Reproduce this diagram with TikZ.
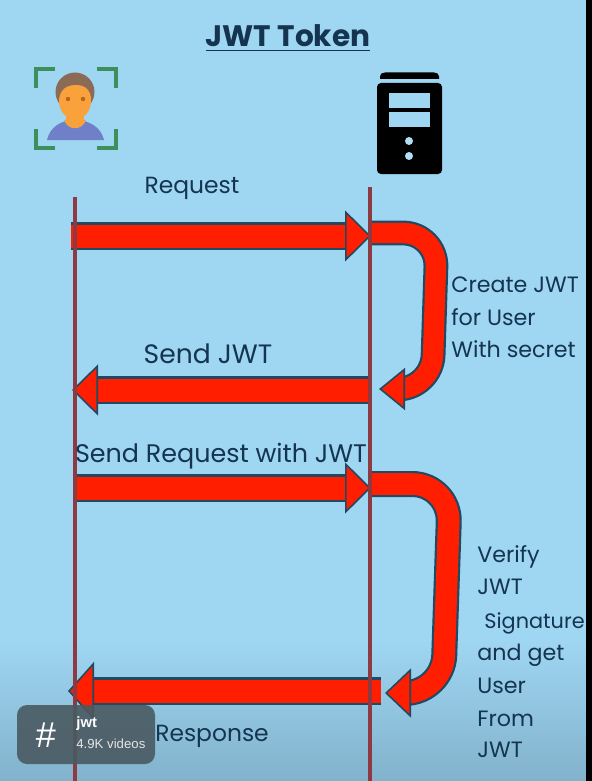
\documentclass[tikz,border=0pt]{standalone}
\usepackage{fontspec}
\setmainfont{Poppins}
\newfontfamily\tagfont{Liberation Sans}
\usetikzlibrary{arrows.meta}
\definecolor{skyback}{HTML}{9FD6F2}
\definecolor{skylow}{HTML}{82B2CC}
\definecolor{arrowred}{HTML}{FF1E00}
\definecolor{arrowedge}{HTML}{1F4A63}
\definecolor{lifered}{HTML}{8E3A42}
\definecolor{inkblue}{HTML}{14344F}
\definecolor{framegreen}{HTML}{3E8E5E}
\definecolor{hairbrown}{HTML}{8B6B55}
\definecolor{skinorange}{HTML}{F9A13B}
\definecolor{eyebrown}{HTML}{B5651D}
\definecolor{shirtblue}{HTML}{6F80C8}
\definecolor{tagslate}{HTML}{4A5A62}
\tikzset{
  bigarrow/.style={line width=11.5pt, color=arrowred,
    preaction={draw, arrows=-, color=arrowedge, line width=\pgflinewidth+1.1pt, shorten >=9pt},
    -{Triangle[length=13pt,width=#1,line width=.8pt,color=arrowedge,fill=arrowred]}},
  bigarrow/.default=25.5pt,
  lifeline/.style={line width=1.8pt, color=lifered},
  lbl/.style={text=inkblue, font=\fontsize{11.7}{14}\selectfont, inner sep=0pt, anchor=base},
  side/.style={lbl, anchor=base west, font=\fontsize{11.1}{14}\selectfont},
  bracket/.style={line width=2.3pt, color=framegreen}
}
\begin{document}
\begin{tikzpicture}[x=0.5pt,y=-0.5pt]
  \useasboundingbox (0,0) rectangle (592,781);
  % Background and black strip
  \fill[skyback] (0,0) rectangle (592,781);
  \shade[top color=skyback,bottom color=skylow] (0,640) rectangle (592,781);
  \fill[black] (586,0) rectangle (592,781);
  \node[lbl,font=\fontsize{14.8}{18}\selectfont\bfseries] (title) at (288,47) {\underline{JWT Token}};
  % Person with corner frame
  \foreach \cx/\cy/\dx/\dy in {36/69/1/1, 116/69/-1/1, 36/148/1/-1, 116/148/-1/-1}
    \draw[bracket] (\cx,\cy+\dy*19) -- (\cx,\cy) -- (\cx+\dx*19,\cy);
  \fill[shirtblue] (47,140) .. controls (50,127) and (61,120) .. (75,120) .. controls (89,120) and (101,127) .. (104,140) -- cycle;
  \fill[skinorange] (66,110) rectangle (84,122);
  \fill[skinorange] (64,120) .. controls (68,131) and (82,131) .. (86,120) -- cycle;
  \fill[hairbrown] (75,92) circle (19.5);
  \fill[skinorange] (59,100) .. controls (60,90) and (66,85) .. (76,85) .. controls (86,85) and (91,91) .. (91,100) .. controls (91,112) and (84,119) .. (75,119) .. controls (66,119) and (59,112) .. (59,100) -- cycle;
  \foreach \ex in {68,83}
    \fill[eyebrown] (\ex,99) circle (2.2);
  % Server
  \fill[black,rounded corners=2pt] (377,83) rectangle (442,174);
  \fill[black] (380,79) -- (380,76.5) .. controls (380,74) and (382,72.5) .. (385,72.5) -- (434,72.5) .. controls (437,72.5) and (439,74) .. (439,76.5) -- (439,79) -- cycle;
  \foreach \wy in {93,112}
    \fill[skyback] (389,\wy) rectangle (430,\wy+15);
  \foreach \wy in {141,156}
    \fill[skyback!80!white] (409,\wy) circle (4);
  % Ends of the arrows
  \coordinate (clientTop) at (75,197);
  \coordinate (clientEnd) at (75,781);
  \coordinate (serverTop) at (370,187);
  \coordinate (serverEnd) at (370,781);
  \coordinate (reqA) at (71,236);
  \coordinate (reqB) at (371,236);
  \coordinate (createA) at (369,233);
  \coordinate (createB) at (437,233);
  \coordinate (createC) at (432,389);
  \coordinate (createD) at (379,389);
  \coordinate (sendA) at (371,390);
  \coordinate (sendB) at (72,390);
  \coordinate (authA) at (75,488);
  \coordinate (authB) at (371,488);
  \coordinate (verifyA) at (371,484);
  \coordinate (verifyB) at (450,484);
  \coordinate (verifyC) at (443,693);
  \coordinate (verifyD) at (385,693);
  \coordinate (respA) at (381,691);
  \coordinate (respB) at (68,691);
  % Arrows
  \draw[bigarrow] (reqA) -- (reqB);
  \draw[bigarrow=21pt,line width=10.2pt,rounded corners=17pt] (createA) -- (createB) -- (createC) -- (createD);
  \draw[bigarrow] (sendA) -- (sendB);
  \draw[bigarrow] (authA) -- (authB);
  \draw[bigarrow=24.5pt,line width=10.8pt,rounded corners=19pt] (verifyA) -- (verifyB) -- (verifyC) -- (verifyD);
  \draw[bigarrow=29pt] (respA) -- (respB);
  % Lifelines
  \draw[lifeline] (clientTop) -- (clientEnd);
  \draw[lifeline] (serverTop) -- (serverEnd);
  % Labels
  \node[lbl] (request) at (192,193) {Request};
  \node[lbl,font=\fontsize{13.3}{14}\selectfont] (sendjwt) at (208,363) {Send JWT};
  \node[lbl,font=\fontsize{12.7}{14}\selectfont] (sendreq) at (221,462) {Send Request with JWT};
  \node[lbl] (response) at (212,741) {Response};
  \foreach \nm/\ty/\tx in {createa/292/Create JWT, createb/325/for User, createc/357/With secret}
    \node[side] (\nm) at (451,\ty) {\tx};
  \foreach \nm/\ty/\tx in {verifya/562/Verify, verifyb/594/JWT, verifyd/660/and get, verifye/693/User, verifyf/726/From, verifyg/757/JWT}
    \node[side] (\nm) at (477,\ty) {\tx};
  \node[side,font=\fontsize{10.4}{14}\selectfont] (verifyc) at (484,628) {Signature};
  % Tag in the corner
  \fill[tagslate,fill opacity=.9,rounded corners=5pt] (17,705) rectangle (155,764);
  \node[text=white,inner sep=0pt,font=\tagfont\fontsize{18}{20}\selectfont] (hash) at (46,735) {\#};
  \node[text=white,inner sep=0pt,anchor=west,font=\tagfont\bfseries\fontsize{7.4}{8}\selectfont] (tagname) at (76,724) {jwt};
  \node[text=white!80!gray,inner sep=0pt,anchor=west,font=\tagfont\fontsize{6.6}{8}\selectfont] (tagcount) at (76,744) {4.9K videos};
\end{tikzpicture}
\end{document}
